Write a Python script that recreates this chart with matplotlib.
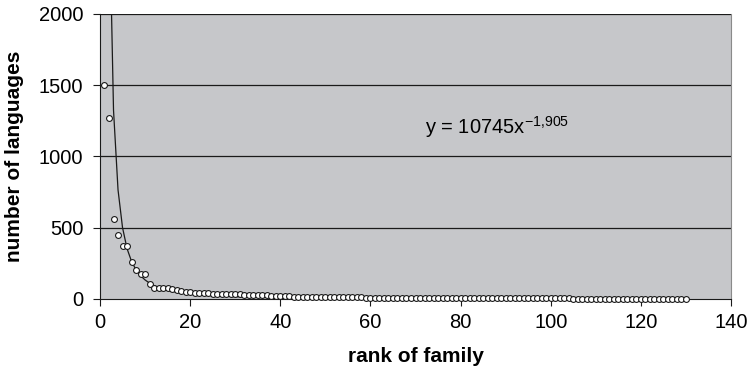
import numpy as np
import matplotlib

matplotlib.use("Agg")
import matplotlib.pyplot as plt  # noqa: E402

plt.rcParams["font.family"] = ["Liberation Sans", "DejaVu Sans"]
plt.rcParams["mathtext.fontset"] = "custom"
plt.rcParams["mathtext.rm"] = "Liberation Sans"

# languages per family, families ranked by size
languages = [
    1500, 1270, 560, 450, 375, 375, 257, 200, 175, 175,
    103, 80, 75, 75, 75, 72, 60, 55, 52, 50,
    45, 40, 40, 39, 38, 38, 37, 36, 36, 35,
    32, 31, 30, 30, 29, 28, 27, 22, 21, 20,
    18, 18, 17, 17, 17, 16, 16, 16, 15, 15,
    15, 15, 14, 14, 14, 13, 13, 12, 9, 9,
    9, 8, 8, 8, 8, 8, 7, 7, 7, 7,
    7, 7, 6, 6, 6, 6, 6, 6, 6, 6,
    5, 5, 5, 5, 5, 5, 5, 5, 5, 5,
    5, 4, 4, 4, 4, 4, 4, 4, 4, 4,
    4, 4, 4, 4, 3, 3, 3, 3, 3, 3,
    3, 3, 3, 3, 3, 3, 3, 3, 3, 3,
    3, 3, 2, 2, 2, 2, 2, 2, 2, 2,
]
rank = np.arange(1, len(languages) + 1)

# power trendline reported on the chart
coef = 10745
expo = -1.905
trend = coef * rank.astype(float) ** expo

x_ticks = [0, 20, 40, 60, 80, 100, 120, 140]
y_ticks = [0, 500, 1000, 1500, 2000]

fig = plt.figure(figsize=(7.49, 3.68), dpi=100)
ax = fig.add_axes([0.1335, 0.1875, 0.976 - 0.1335, 0.962 - 0.1875])
ax.set_facecolor("#c6c7ca")

for yv in y_ticks[1:]:
    ax.axhline(yv, color="#1a1a1a", lw=0.9, zorder=1)

ax.plot(rank, trend, color="#1a1a1a", lw=0.9, zorder=2)
ax.plot(rank, languages, "o", ms=4.2, mfc="white", mec="#1a1a1a", mew=0.8,
        zorder=3, clip_on=False)

ax.set_xlim(0, 140)
ax.set_ylim(0, 2000)
ax.set_xticks(x_ticks)
ax.set_yticks(y_ticks)
ax.tick_params(direction="out", length=5, width=0.8, labelsize=14.5,
               color="#1a1a1a")
ax.tick_params(axis="y", pad=7)
ax.tick_params(axis="x", pad=5)

ax.spines["left"].set_color("#1a1a1a")
ax.spines["bottom"].set_color("#1a1a1a")
ax.spines["top"].set_visible(False)
ax.spines["right"].set_color("#8a8a8a")

ax.set_xlabel("rank of family", fontsize=15, fontweight="bold")
ax.set_ylabel("number of languages", fontsize=15, fontweight="bold")
ax.xaxis.set_label_coords(0.5, -0.168)
ax.yaxis.set_label_coords(-0.12, 0.5)

ax.text(72.2, 1158, r"y = 10745x$^{\mathregular{-1{,}905}}$", fontsize=14.5,
        ha="left", va="baseline", zorder=4)

fig.savefig("out.png", dpi=100)
